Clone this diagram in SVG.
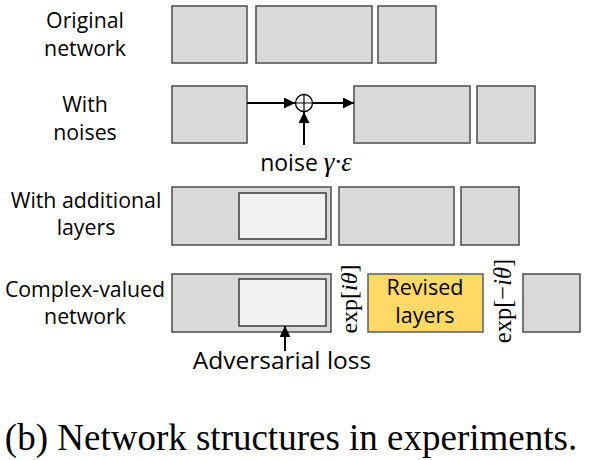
<svg xmlns="http://www.w3.org/2000/svg" width="589" height="460" viewBox="0 0 589 460">
<style>
.b{fill:#d9d9d9;stroke:#555;stroke-width:1.6}
.in{fill:#f2f2f2;stroke:#444;stroke-width:1.6}
.y{fill:#ffd966;stroke:#666;stroke-width:1.6}
.t{font-family:"Open Sans","Liberation Sans",sans-serif;font-size:21.3px;fill:#000;text-anchor:middle}
.m{font-family:"Liberation Serif","DejaVu Serif",serif;font-size:24px;fill:#000}
.l{stroke:#000;stroke-width:2;fill:none}
</style>
<defs>
<marker id="ah" viewBox="0 0 10 10" refX="10" refY="5" markerWidth="5.5" markerHeight="5.5" orient="auto" markerUnits="strokeWidth">
<path d="M0,0 L10,5 L0,10 z" fill="#000"/>
</marker>
</defs>
<g id="labels">
<text class="t" x="85" y="28">Original</text>
<text class="t" x="85" y="56">network</text>
<text class="t" x="85" y="112">With</text>
<text class="t" x="85" y="140">noises</text>
<text class="t" x="86" y="208">With additional</text>
<text class="t" x="86" y="235">layers</text>
<text class="t" x="85" y="297">Complex-valued</text>
<text class="t" x="85" y="324">network</text>
</g>
<g id="row1">
<rect class="b" x="172" y="6" width="75" height="57"/>
<rect class="b" x="256" y="6" width="116" height="57"/>
<rect class="b" x="378" y="6" width="58" height="57"/>
</g>
<g id="row2">
<rect class="b" x="172" y="86" width="75" height="57"/>
<circle cx="304" cy="103" r="8.5" fill="#fff" stroke="#000" stroke-width="1.3"/>
<path d="M295.5,103 H312.5 M304,94.5 V111.5" stroke="#000" stroke-width="1.2"/>
<rect class="b" x="354" y="86" width="116" height="57"/>
<rect class="b" x="477" y="86" width="58" height="57"/>
<text x="306" y="171" class="t" style="font-size:23px"><tspan>noise </tspan><tspan style="font-family:'Liberation Serif',serif;font-style:italic;font-size:27px">γ·ε</tspan></text>
</g>
<g id="row3">
<rect class="b" x="172" y="187" width="159" height="58"/>
<rect class="in" x="239" y="193" width="87" height="46"/>
<rect class="b" x="339" y="187" width="115" height="58"/>
<rect class="b" x="461" y="187" width="58" height="58"/>
</g>
<g id="row4">
<rect class="b" x="172" y="274" width="159" height="58"/>
<rect class="in" x="239" y="279" width="87" height="47"/>
<rect class="y" x="368" y="274" width="115" height="58"/>
<text class="t" x="425" y="295" style="font-size:21.5px">Revised</text>
<text class="t" x="425" y="323" style="font-size:21.5px">layers</text>
<rect class="b" x="523" y="274" width="57" height="58"/>
<text class="m" text-anchor="middle" transform="translate(357,299) rotate(-90)">exp[<tspan font-style="italic">iθ</tspan>]</text>
<text class="m" text-anchor="middle" transform="translate(511,301) rotate(-90)" style="font-size:24.5px">exp[−<tspan font-style="italic">iθ</tspan>]</text>
<text class="t" x="282" y="369" style="font-size:24.5px">Adversarial loss</text>
</g>
<g id="connectors">
<line class="l" x1="247" y1="103" x2="295" y2="103" marker-end="url(#ah)"/>
<line class="l" x1="313" y1="103" x2="354" y2="103" marker-end="url(#ah)"/>
<line class="l" x1="304" y1="145" x2="304" y2="112" marker-end="url(#ah)"/>
<line class="l" x1="285" y1="351" x2="285" y2="326" marker-end="url(#ah)"/>
</g>
<text x="291" y="450" font-family="Liberation Serif,serif" font-size="37" text-anchor="middle" fill="#000">(b) Network structures in experiments.</text>
</svg>
